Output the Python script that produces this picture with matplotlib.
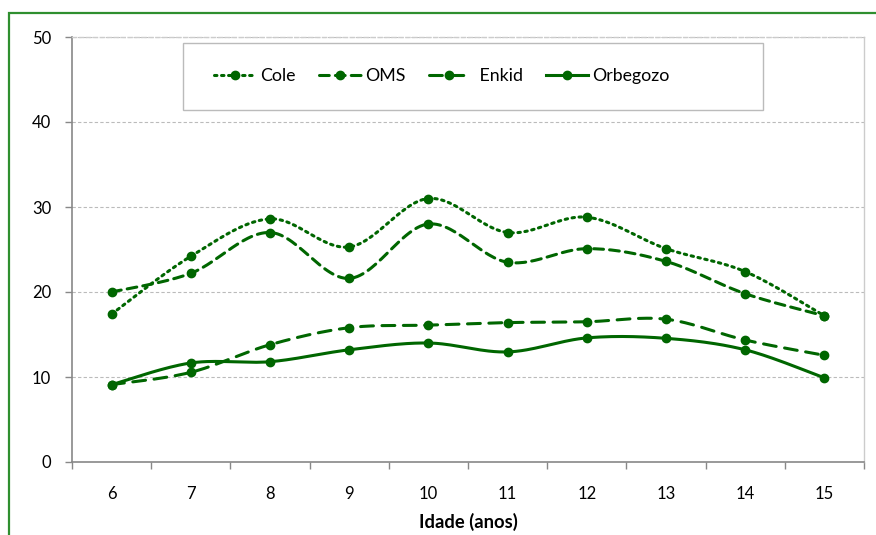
import numpy as np
import matplotlib
matplotlib.use("Agg")
import matplotlib.pyplot as plt
from matplotlib.lines import Line2D
from matplotlib.patches import Rectangle

plt.rcParams['font.family'] = ['Lato', 'DejaVu Sans']

ages = [6, 7, 8, 9, 10, 11, 12, 13, 14, 15]
cole = [17.4, 24.2, 28.6, 25.3, 31.0, 27.0, 28.8, 25.1, 22.4, 17.2]
oms = [20.0, 22.2, 27.0, 21.6, 28.0, 23.5, 25.1, 23.6, 19.8, 17.2]
enkid = [9.1, 10.55, 13.8, 15.8, 16.1, 16.4, 16.5, 16.8, 14.35, 12.55]
orbegozo = [9.1, 11.65, 11.8, 13.2, 14.0, 12.95, 14.6, 14.55, 13.2, 9.9]

series_names = ["Cole", "OMS", "Enkid", "Orbegozo"]
legend_labels = ["Cole", "OMS", " Enkid", "Orbegozo"]
y_ticks = [0, 10, 20, 30, 40, 50]

GREEN = "#006600"
styles = {
    "Cole": (0, (0.8, 1.5)),
    "OMS": (0, (3.2, 2.0)),
    "Enkid": (0, (4.2, 2.8)),
    "Orbegozo": "-",
}

W, H = 876, 535


def smooth(x, y, n=30):
    """Bezier smoothing through every point (Catmull-Rom style tangents)."""
    p = np.column_stack([x, y]).astype(float)
    ext = np.vstack([p[0], p, p[-1]])
    out = []
    t = np.linspace(0, 1, n)[:, None]
    for i in range(len(p) - 1):
        p0, p3 = ext[i + 1], ext[i + 2]
        c1 = p0 + (ext[i + 2] - ext[i]) / 6.0
        c2 = p3 - (ext[i + 3] - ext[i + 1]) / 6.0
        seg = ((1 - t) ** 3) * p0 + 3 * ((1 - t) ** 2) * t * c1 \
            + 3 * (1 - t) * t ** 2 * c2 + t ** 3 * p3
        out.append(seg if i == 0 else seg[1:])
    s = np.vstack(out)
    return s[:, 0], s[:, 1]


fig = plt.figure(figsize=(W / 100, H / 100), dpi=100)
fig.patch.set_facecolor("white")

# outer frame (open towards right and bottom)
fig.add_artist(Rectangle((8.5 / W, -0.05), 1.2, 1 - 12.5 / H + 0.05,
                         transform=fig.transFigure, fill=False,
                         edgecolor="#2f8f2f", linewidth=1.6))

ax = fig.add_axes([72 / W, (H - 462) / H, (864 - 72) / W, (462 - 37) / H])

data = {"Cole": cole, "OMS": oms, "Enkid": enkid, "Orbegozo": orbegozo}
handles = []
for name, lab in zip(series_names, legend_labels):
    vals = data[name]
    sx, sy = smooth(ages, vals)
    ax.plot(sx, sy, color=GREEN, lw=2.2, linestyle=styles[name],
            dash_capstyle="round", solid_capstyle="round", zorder=3)
    ax.plot(ages, vals, linestyle="none", marker="o", ms=6,
            color=GREEN, zorder=4)
    handles.append(Line2D([], [], color=GREEN, lw=2.2, linestyle=styles[name],
                          dash_capstyle="round", marker="o", ms=6, label=lab))

ax.set_xlim(5.5, 15.5)
ax.set_ylim(0, 50)
ax.set_yticks(y_ticks)
ax.set_yticklabels([str(v) for v in y_ticks], fontsize=12)
ax.set_xticks(ages)
ax.set_xticklabels([str(a) for a in ages], fontsize=12)
ax.set_xticks(np.arange(5.5, 15.6, 1.0), minor=True)
ax.tick_params(axis="x", which="major", length=0, pad=17)
ax.tick_params(axis="x", which="minor", length=5, color="#888888", width=1,
               direction="out")
ax.tick_params(axis="y", length=5, color="#888888", width=1, pad=10)

ax.yaxis.grid(True, color="#bbbbbb", linestyle=(0, (3, 2)), linewidth=0.8)
ax.set_axisbelow(True)
for side in ["left", "bottom"]:
    ax.spines[side].set_color("#888888")
    ax.spines[side].set_linewidth(1.2)
for side in ["top", "right"]:
    ax.spines[side].set_color("#cccccc")
    ax.spines[side].set_linewidth(1.0)
ax.spines["top"].set_linestyle((0, (3, 2)))

ax.set_xlabel("Idade (anos)", fontsize=13.2, fontweight="bold", labelpad=8)

# legend box
fig.add_artist(Rectangle((183 / W, 1 - 110 / H), (763 - 183) / W, 67 / H,
                         transform=fig.transFigure, facecolor="white",
                         edgecolor="#bbbbbb", linewidth=1.0, zorder=5))
leg = fig.legend(handles=handles, loc="center left",
                 bbox_to_anchor=(214 / W, 1 - 76.5 / H),
                 ncol=4, frameon=False, fontsize=12.8,
                 handlelength=2.35, handletextpad=0.25, columnspacing=1.3,
                 borderpad=0, borderaxespad=0)
leg.set_zorder(6)

fig.savefig("out.png", dpi=100, facecolor="white")
